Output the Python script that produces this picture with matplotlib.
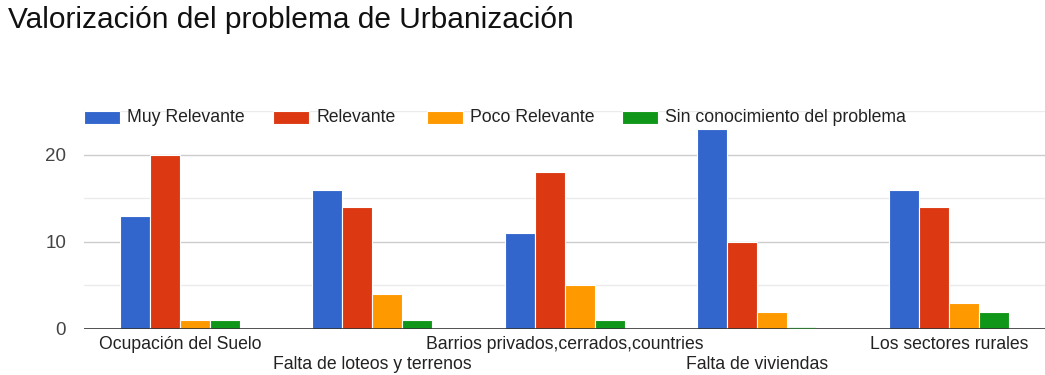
import numpy as np
import matplotlib
matplotlib.use("Agg")
import matplotlib.pyplot as plt
from matplotlib.patches import Rectangle

plt.rcParams['font.family'] = ['Liberation Sans', 'DejaVu Sans']

# Urbanization survey results
categories = ["Ocupación del Suelo", "Falta de loteos y terrenos",
              "Barrios privados,cerrados,countries", "Falta de viviendas",
              "Los sectores rurales"]
series_names = ["Muy Relevante", "Relevante", "Poco Relevante",
                "Sin conocimiento del problema"]
muy_relevante = [13, 16, 11, 23, 16]
relevante = [20, 14, 18, 10, 14]
poco_relevante = [1, 4, 5, 2, 3]
sin_conocimiento = [1, 1, 1, 0, 2]
y_ticks = [0, 10, 20]

series = [muy_relevante, relevante, poco_relevante, sin_conocimiento]
colors = ["#3366cc", "#dc3912", "#ff9900", "#109618"]

fig = plt.figure(figsize=(10.45, 3.75), dpi=100)
ax = fig.add_axes([0.0805, 0.1227, 0.9195, 0.5800])

x = np.arange(len(categories))
pitch = 0.156
for i, (vals, col) in enumerate(zip(series, colors)):
    ax.bar(x + (i - 1.5) * pitch, vals, width=pitch, color=col,
           edgecolor="white", linewidth=0.8, label=series_names[i], zorder=3)
    # zero values still show as a thin sliver on the baseline
    for xi, v in zip(x, vals):
        if v == 0:
            ax.plot([xi + (i - 1.5) * pitch - pitch / 2 + 0.01,
                     xi + (i - 1.5) * pitch + pitch / 2 - 0.01], [0.12, 0.12],
                    color=col, linewidth=1, alpha=0.5, zorder=5)

ax.set_xlim(-0.5, len(categories) - 0.5)
ax.set_ylim(0, 25)

# gridlines: major every 10, minor every 5
for v in [5, 15, 25]:
    ax.axhline(v, color="#ebebeb", linewidth=1, zorder=1)
for v in [10, 20]:
    ax.axhline(v, color="#cccccc", linewidth=1, zorder=1)
ax.axhline(0, color="#333333", linewidth=1.2, zorder=4)

ax.set_yticks(y_ticks)
ax.set_yticklabels([str(t) for t in y_ticks], fontsize=13.5, color="#444444")
ax.tick_params(axis="y", length=0, pad=13)
ax.set_xticks([])
for s in ax.spines.values():
    s.set_visible(False)

# staggered category labels
for i, cat in enumerate(categories):
    yy = -0.0736 if i % 2 == 0 else -0.1655
    ax.text(i, yy, cat, transform=ax.get_xaxis_transform(), ha="center",
            va="center", fontsize=12.7, color="#222222")

# legend row
legend_x = [84, 273, 427, 622]
for lx, name, col in zip(legend_x, series_names, colors):
    fig.patches.append(Rectangle((lx / 1045, 1 - 124 / 375), 36 / 1045, 13 / 375,
                                 transform=fig.transFigure, facecolor=col,
                                 edgecolor="white", linewidth=0.8))
    fig.text((lx + 43) / 1045, 1 - 117 / 375, name, fontsize=12.7,
             color="#222222", va="center", ha="left")

fig.text(8 / 1045, 1 - 20 / 375, "Valorización del problema de Urbanización",
         fontsize=21.5, color="#111111", va="center", ha="left")

fig.savefig("out.png", dpi=100)
